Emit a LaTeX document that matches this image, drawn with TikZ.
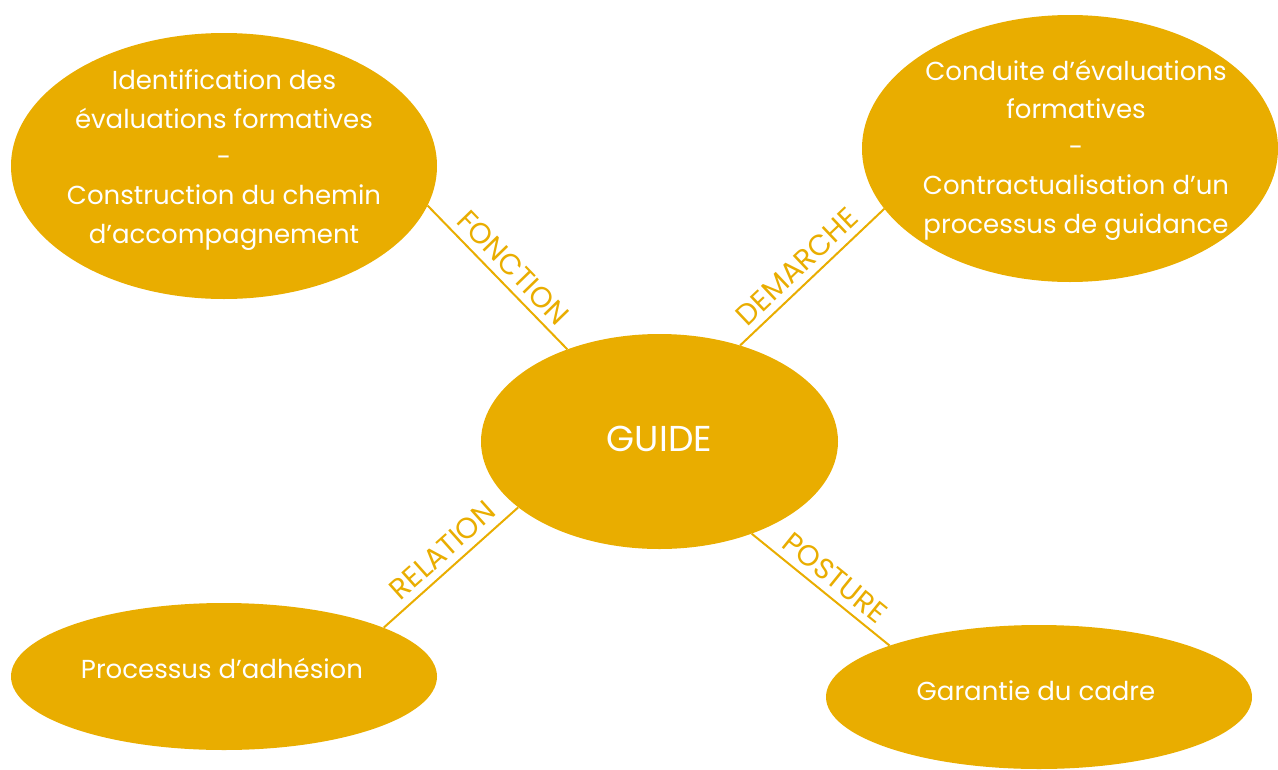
\documentclass[tikz,border=0pt]{standalone}
\usepackage{fontspec}
\setmainfont{Poppins}
\usetikzlibrary{shapes.geometric}
\definecolor{gold}{RGB}{233,173,0}
\tikzset{
  blob/.style={ellipse, fill=gold, draw=none, inner sep=0pt},
  blobtext/.style={text=white, align=center, font=\fontsize{26}{38.3}\selectfont},
  link/.style={draw=gold, line width=2pt},
  linklabel/.style={text=gold, font=\fontsize{29}{29}\selectfont, sloped, above, inner sep=7pt}
}
\begin{document}
\begin{tikzpicture}[x=1pt, y=-1pt]
\useasboundingbox (0,0) rectangle (1278,769);
\node[blob, minimum width=357pt, minimum height=215pt] (c) at (659.5,441.5) {};
\node[blob, minimum width=426pt, minimum height=266pt] (tl) at (224,166) {};
\node[blob, minimum width=416pt, minimum height=267pt] (tr) at (1070,148.5) {};
\node[blob, minimum width=426pt, minimum height=147pt] (bl) at (224,676.5) {};
\node[blob, minimum width=426pt, minimum height=144pt] (br) at (1039,697) {};

\node[text=white, font=\fontsize{36}{36}\selectfont, anchor=base] (ct) at (659.5,451) {GUIDE};
\node[blobtext] (tlt) at (224,160) {Identification des\\évaluations formatives\\-\\Construction du chemin\\d’accompagnement};
\node[blobtext] (trt) at (1076,150) {Conduite d’évaluations\\formatives\\-\\Contractualisation d’un\\processus de guidance};
\node[blobtext, anchor=base] (blt) at (222,678) {Processus d’adhésion};
\node[blobtext, anchor=base] (brt) at (1036,700) {Garantie du cadre};

\draw[link] (c.135) -- node[linklabel, pos=0.48] (lf) {FONCTION} (tl.-11);
\draw[link] (c.50) -- node[linklabel, pos=0.48] (ld) {DEMARCHE} (tr.198);
\draw[link] (c.205) -- node[linklabel, pos=0.47] (lr) {RELATION} (bl.17);
\draw[link] (c.-45) -- node[linklabel, pos=0.52] (lp) {POSTURE} (br.161);
\end{tikzpicture}
\end{document}
